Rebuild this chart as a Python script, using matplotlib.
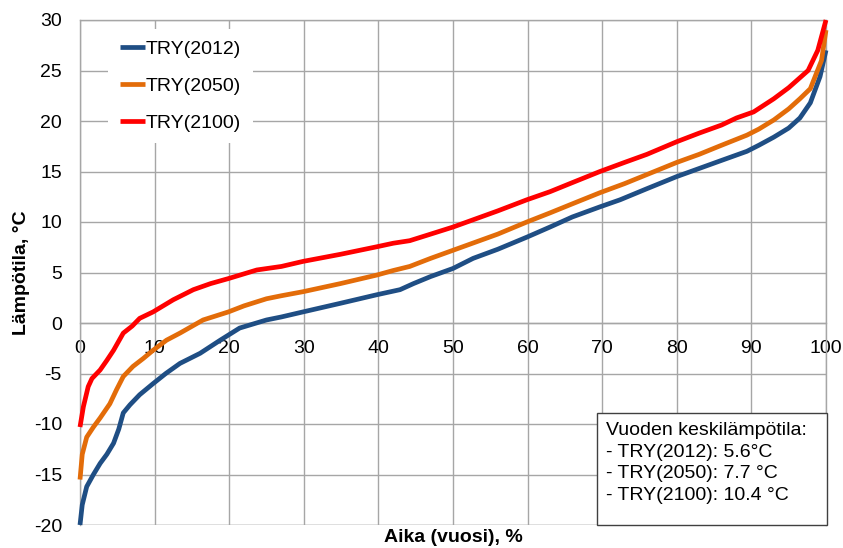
import matplotlib
matplotlib.use("Agg")
import matplotlib.pyplot as plt
from matplotlib.patches import Rectangle

plt.rcParams['font.family'] = ['Liberation Sans', 'DejaVu Sans']
plt.rcParams['axes.unicode_minus'] = False

# Duration curves of hourly outdoor temperature (share of year, %)
x_2012 = [0, 0.3, 0.9, 1.8, 2.7, 3.6, 4.5, 5.2, 5.8, 6.7, 8, 9.8, 11.5, 13.4, 16.1,
          18.8, 21.4, 25, 27, 29.9, 34.9, 39.8, 42.9, 44.7, 47, 50, 52.7, 56, 59.9,
          63, 66, 69.7, 72.4, 76, 80, 83, 86, 89.4, 91, 93, 95, 96.5, 97.9, 99.2, 100]
y_2012 = [-20, -18, -16.2, -15, -13.9, -13, -11.9, -10.5, -8.9, -8.1, -7.1, -6.0, -5.0,
          -4.0, -3.0, -1.7, -0.5, 0.3, 0.6, 1.1, 1.95, 2.8, 3.3, 3.9, 4.6, 5.4, 6.4, 7.3,
          8.5, 9.5, 10.5, 11.5, 12.2, 13.3, 14.5, 15.3, 16.1, 17.0, 17.6, 18.4, 19.3,
          20.3, 21.8, 24.4, 27]

x_2050 = [0, 0.3, 0.9, 1.8, 2.7, 4, 4.9, 5.8, 7.1, 8.5, 9.8, 11.6, 13.4, 16.5, 19.9,
          22, 25, 27, 29.9, 34.9, 39.8, 42, 44.2, 47, 50, 53, 56, 59.9, 63, 66, 69.7,
          73, 76, 80, 83, 86, 89.4, 91, 93, 95, 96.5, 97.9, 99.4, 100]
y_2050 = [-15.5, -13, -11.3, -10.3, -9.4, -8.0, -6.6, -5.3, -4.3, -3.5, -2.7, -1.7, -1.0,
          0.3, 1.1, 1.7, 2.4, 2.7, 3.1, 3.9, 4.75, 5.2, 5.6, 6.4, 7.2, 8.0, 8.8, 10.0,
          10.9, 11.8, 12.9, 13.8, 14.7, 15.9, 16.7, 17.6, 18.6, 19.2, 20.1, 21.2, 22.2,
          23.2, 26, 29]

x_2100 = [0, 0.45, 1.1, 1.6, 2.7, 3.6, 4.5, 5.8, 7, 8, 9.8, 12.5, 15.2, 17.5, 19.9,
          23.7, 27, 29.9, 34.9, 39.8, 42, 44.2, 47, 50, 53, 56, 59.9, 63, 66, 69.7, 73,
          76, 80, 83, 86, 88, 90.3, 93, 95, 97.6, 98.9, 100]
y_2100 = [-10.3, -8.3, -6.3, -5.5, -4.65, -3.7, -2.7, -1.0, -0.3, 0.46, 1.1, 2.3, 3.3,
          3.9, 4.4, 5.25, 5.6, 6.1, 6.8, 7.55, 7.9, 8.15, 8.8, 9.5, 10.3, 11.1, 12.2,
          13.0, 13.9, 15.0, 15.9, 16.7, 17.95, 18.8, 19.6, 20.3, 20.9, 22.2, 23.3, 25.0,
          27.0, 30]

series = [("TRY(2012)", x_2012, y_2012, "#1F4E84"),
          ("TRY(2050)", x_2050, y_2050, "#E36C09"),
          ("TRY(2100)", x_2100, y_2100, "#FF0000")]

x_ticks = list(range(0, 101, 10))
y_ticks = list(range(-20, 31, 5))

info_lines = ["Vuoden keskilämpötila:",
              "- TRY(2012): 5.6°C",
              "- TRY(2050): 7.7 °C",
              "- TRY(2100): 10.4 °C"]

FS = 14
W, H = 843, 548
fig = plt.figure(figsize=(W / 100, H / 100), dpi=100)
L, R, T, B = 80, 826, 20, 525
ax = fig.add_axes([L / W, 1 - B / H, (R - L) / W, (B - T) / H])

grid_c = "#A6A6A6"
for name, xs, ys, col in series:
    ax.plot(xs, ys, color=col, lw=3.4, label=name, zorder=3,
            solid_capstyle="butt", clip_on=False)

ax.set_xlim(0, 100)
ax.set_ylim(-20, 30)
ax.set_xticks(x_ticks)
ax.set_yticks(y_ticks)
ax.grid(True, color=grid_c, lw=1.0, zorder=0)
ax.set_axisbelow(True)

for s in ["top", "right", "left", "bottom"]:
    ax.spines[s].set_color(grid_c)
    ax.spines[s].set_linewidth(1.0)
ax.spines["bottom"].set_position(("data", 0))
# border line at the bottom of the plot area
ax.axhline(-20, color=grid_c, lw=1.0, zorder=0)

ax.tick_params(axis="both", length=0, labelsize=FS, colors="black")
ax.tick_params(axis="x", pad=12)
ax.tick_params(axis="y", pad=13)

ax.set_ylabel("Lämpötila, °C", fontsize=FS, fontweight="bold")
ax.yaxis.set_label_coords(-0.067, 0.5)
ax.set_xlabel("Aika (vuosi), %", fontsize=FS, fontweight="bold")
ax.xaxis.set_label_coords(0.5, -0.024)
ax.xaxis.label.set_va("center")

leg = ax.legend(loc="upper left", bbox_to_anchor=((108 - L) / (R - L), (B - 29) / (B - T)),
                fontsize=FS, frameon=True, facecolor="white", edgecolor="none",
                framealpha=1, fancybox=False, handlelength=1.3, handletextpad=0.05,
                labelspacing=0.98, borderpad=0.6, borderaxespad=0)
leg.set_zorder(5)

# info box with annual mean temperatures
bx0, bx1, by0, by1 = 597, 827, 413, 525
box = Rectangle(((bx0 - L) / (R - L), (B - by1) / (B - T)),
                (bx1 - bx0) / (R - L), (by1 - by0) / (B - T),
                transform=ax.transAxes, facecolor="white", edgecolor="#404040",
                lw=1.0, zorder=6, clip_on=False)
ax.add_patch(box)
ax.text((606 - L) / (R - L), (B - 422) / (B - T), "\n".join(info_lines),
        transform=ax.transAxes, ha="left", va="top", fontsize=FS,
        linespacing=1.36, zorder=7)

fig.savefig("out.png", dpi=100)
